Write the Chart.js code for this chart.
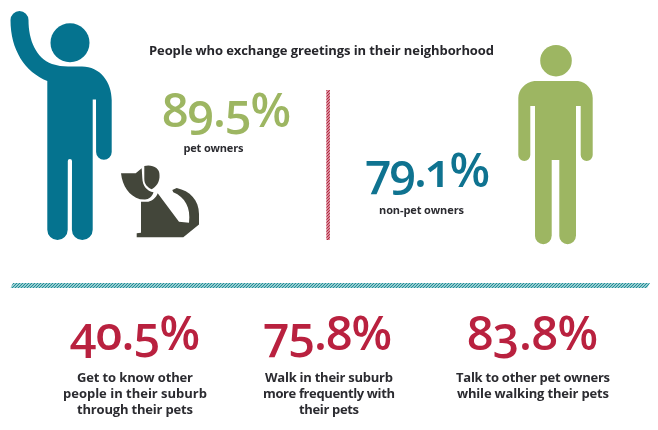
<!DOCTYPE html>
<html><head><meta charset="utf-8">
<style>
html,body{margin:0;padding:0;background:#fff}
#c{display:block;font-feature-settings:"onum" 1;}
</style>
<script src="https://cdn.jsdelivr.net/npm/chart.js@4"></script>
</head><body>
<canvas id="c" width="658" height="430"></canvas>
<script>
// ---- data ----
const titleText = 'People who exchange greetings in their neighborhood';
const statValues = [89.5, 79.1, 40.5, 75.8, 83.8];
const statCaptions = [
  ['pet owners'],
  ['non-pet owners'],
  ['Get to know other','people in their suburb','through their pets'],
  ['Walk in their suburb','more frequently with','their pets'],
  ['Talk to other pet owners','while walking their pets']
];
// ---- layout (separate from data) ----
const statX = [226.5, 427.5, 135, 327.5, 532.5];
const statBase = [127, 187, 350, 350, 350];
const statW = [129, 125, 130, 129, 131];
const statColor = ['#9db662','#0f7390','#b9213f','#b9213f','#b9213f'];
const capX = [213.5, 421.5, 135, 329, 533];
const capBase = [152, 214, 382, 382, 382];
const capW = [[60],[85],[116,144,116],[128,132,60],[154,152]];
const capSize = [11,11,13,13,13];
const ink = '#2b2b30', FONT = '"Open Sans"';

function hatch(color,lw){
  const p=document.createElement('canvas');p.width=3;p.height=3;
  const g=p.getContext('2d');g.fillStyle='#fff';g.fillRect(0,0,3,3);
  g.strokeStyle=color;g.lineWidth=lw;
  g.beginPath();g.moveTo(-1,4);g.lineTo(4,-1);g.moveTo(-1,1);g.lineTo(1,-1);g.moveTo(2,4);g.lineTo(4,2);g.stroke();
  return p;
}
function fit(ctx,text,cx,base,w,font){
  ctx.font=font;ctx.letterSpacing='0px';
  const m=ctx.measureText(text).width;
  ctx.letterSpacing=((w-m)/Math.max(1,text.length-1)).toFixed(3)+'px';
  ctx.textAlign='left';ctx.textBaseline='alphabetic';
  ctx.fillText(text,cx-w/2,base);
  ctx.letterSpacing='0px';
}
const artwork={
  id:'artwork',
  afterDraw(chart){
    const ctx=chart.ctx;
    const meta=chart.getDatasetMeta(0);
    ctx.save();
    // title
    ctx.fillStyle='#26262b';
    fit(ctx,titleText,321.5,55,345,'700 13px '+FONT);
    // waving person
    ctx.fillStyle='#05738f';
    ctx.beginPath();ctx.arc(70,42.7,19.5,0,7);ctx.fill();
    ctx.beginPath();
    ctx.moveTo(10.5,20);ctx.arc(19.5,20,9,Math.PI,0);
    ctx.bezierCurveTo(28.5,40,36,58,52,64);
    ctx.quadraticCurveTo(60,66.5,68,66.5);ctx.lineTo(82,66.5);
    ctx.bezierCurveTo(100,66.5,111.7,82,111.7,100);
    ctx.lineTo(111.7,152);ctx.arc(103.9,152,7.8,0,Math.PI);
    ctx.lineTo(96,99.5);ctx.lineTo(92.7,99.5);ctx.lineTo(92.7,230);
    ctx.arc(82.3,229.7,10.4,0,Math.PI);
    ctx.lineTo(72,161);ctx.arc(69.9,161,2.1,0,Math.PI,true);
    ctx.lineTo(67.7,230);ctx.arc(57.5,229.7,10.2,0,Math.PI);
    ctx.lineTo(47.3,81);
    ctx.bezierCurveTo(25,72,10.5,50,10.5,20);
    ctx.closePath();ctx.fill();
    // dog
    ctx.fillStyle='#43463a';
    // ear
    ctx.beginPath();ctx.moveTo(144.3,166);ctx.bezierCurveTo(152,164,160,168,159.5,175);
    ctx.bezierCurveTo(160,182,156,187,151.7,189.3);ctx.bezierCurveTo(147,187,144.3,184,144.3,179);ctx.closePath();ctx.fill();
    // face
    ctx.beginPath();ctx.moveTo(121,173.3);ctx.lineTo(135.7,173.3);ctx.lineTo(141.7,168.3);
    ctx.lineTo(142.3,178);ctx.bezierCurveTo(142.5,186,147,191,153.5,192.3);
    ctx.bezierCurveTo(152,197,149,199.3,145,199.5);ctx.lineTo(140,199.3);
    ctx.bezierCurveTo(129,196,122.5,186,121,173.3);ctx.closePath();ctx.fill();
    // body and tail
    ctx.beginPath();ctx.moveTo(141,201.7);ctx.lineTo(148.3,201.7);ctx.bezierCurveTo(152,201,156,198,157.7,193.3);
    ctx.lineTo(179,221.7);ctx.lineTo(189,222.7);
    ctx.bezierCurveTo(191,208,185,197,173.3,192.3);
    ctx.lineTo(172.3,190);ctx.lineTo(176.7,188);
    ctx.bezierCurveTo(190,191,199,200,199,214);ctx.lineTo(199,224.5);
    ctx.lineTo(183.3,237.3);ctx.lineTo(136.7,237.3);ctx.lineTo(136.7,233.3);ctx.lineTo(141,232.7);
    ctx.closePath();ctx.fill();
    // standing person
    ctx.fillStyle='#9db662';
    ctx.beginPath();ctx.arc(556,60.7,15.8,0,7);ctx.fill();
    ctx.beginPath();
    ctx.moveTo(534.3,81);ctx.lineTo(578,81);ctx.bezierCurveTo(587,82,592.7,90,592.7,98);
    ctx.lineTo(592.7,155);ctx.arc(586.7,155,6,0,Math.PI);
    ctx.lineTo(580.7,106);ctx.lineTo(576,106);ctx.lineTo(576,236);
    ctx.arc(567.6,236,8.3,0,Math.PI);ctx.lineTo(559.3,160);ctx.lineTo(551.7,160);ctx.lineTo(551.7,236);
    ctx.arc(543.3,236,8.3,0,Math.PI);ctx.lineTo(535,106);ctx.lineTo(530.3,106);ctx.lineTo(530.3,155);
    ctx.arc(524.3,155,6,0,Math.PI);ctx.lineTo(518.3,98);
    ctx.bezierCurveTo(518.3,90,525,82,534.3,81);ctx.closePath();ctx.fill();
    // hatched rules
    ctx.fillStyle=ctx.createPattern(hatch('#b5243f',1.5),'repeat');
    ctx.fillRect(326.3,90,3.6,150);
    ctx.fillStyle=ctx.createPattern(hatch('#1f8f98',1.3),'repeat');
    ctx.beginPath();ctx.moveTo(13,283);ctx.lineTo(650,283);ctx.lineTo(647,288);ctx.lineTo(10.5,288);ctx.closePath();ctx.fill();
    // values & captions
    meta.data.forEach((el,i)=>{
      ctx.fillStyle=statColor[i];
      fit(ctx,statValues[i].toFixed(1)+'%',el.x,el.y,statW[i],'600 47px '+FONT);
      ctx.fillStyle=ink;
      statCaptions[i].forEach((line,k)=>{
        fit(ctx,line,capX[i],capBase[i]+k*16,capW[i][k],'700 '+capSize[i]+'px '+FONT);
      });
    });
    ctx.restore();
  }
};
new Chart(document.getElementById('c'),{
  type:'scatter',
  data:{datasets:[{data:statValues.map((v,i)=>({x:statX[i],y:statBase[i],value:v})),pointRadius:0,pointHoverRadius:0}]},
  options:{
    responsive:false,animation:false,
    layout:{padding:0},
    plugins:{legend:{display:false},tooltip:{enabled:false}},
    scales:{
      x:{type:'linear',min:0,max:658,display:false},
      y:{type:'linear',min:0,max:430,reverse:true,display:false}
    }
  },
  plugins:[artwork]
});
</script>
</body></html>
